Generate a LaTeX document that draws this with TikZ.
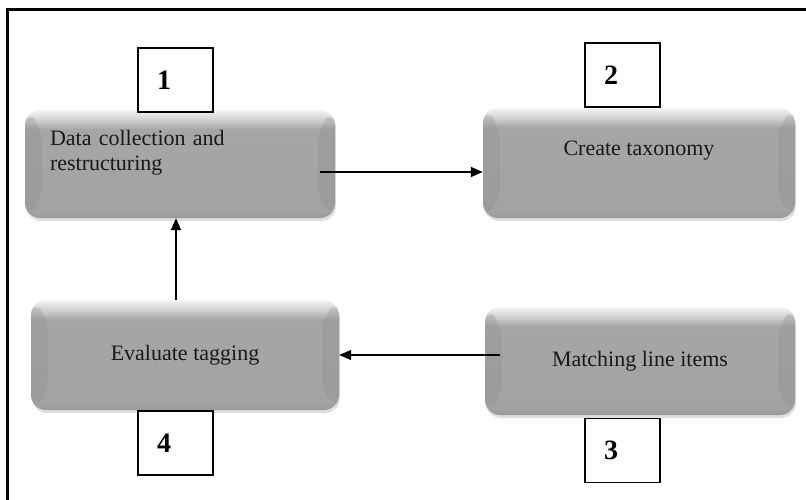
\documentclass[tikz,border=0pt]{standalone}
\usepackage{fontspec}
\setmainfont{Liberation Serif}
\usetikzlibrary{arrows.meta,shadows,positioning}
\pgfdeclareverticalshading{bevel}{100bp}{color(0bp)=(black!40); color(25bp)=(black!40); color(28bp)=(black!36); color(66bp)=(black!35); color(70bp)=(black!20); color(75bp)=(black!4); color(100bp)=(black!4)}
\begin{document}
\begin{tikzpicture}[x=1pt,y=-1pt,
		stepbox/.style={rounded corners=15pt, shading=bevel, minimum width=310pt, minimum height=108pt, inner xsep=25pt, text=black!90, font=\fontsize{22}{25}\selectfont, drop shadow={opacity=0.25, shadow xshift=1pt, shadow yshift=-3pt},
			path picture={
				\fill[black!45, opacity=0.3] (path picture bounding box.north west) -- ++(17,17) -- ([shift={(17,-17)}]path picture bounding box.south west) -- (path picture bounding box.south west) -- cycle;
				\fill[black!45, opacity=0.3] (path picture bounding box.north east) -- ++(-17,17) -- ([shift={(-17,-17)}]path picture bounding box.south east) -- (path picture bounding box.south east) -- cycle;}},
		numbox/.style={draw, line width=1.2pt, fill=white, minimum height=64pt, text width=37pt, inner xsep=19pt, align=left, font=\fontsize{28}{30}\selectfont\bfseries},
		flow/.style={line width=1.4pt, -{Triangle[length=12pt,width=10pt]}}]
	\useasboundingbox (0,0) rectangle (806,500);
	% Frame
	\draw[line width=3pt] (7.5,500) -- (7.5,10) -- (806,10);
	% Steps
	\node[stepbox, text width=260pt, align=left, text depth=52pt] (collect) at (180,164) {Data collection and\\restructuring};
	\node[stepbox, minimum width=312pt, minimum height=110pt, text depth=30pt] (taxonomy) at (639,163) {Create taxonomy};
	\node[stepbox] (matching) at (640,361) {Matching line items};
	\node[stepbox, minimum width=308pt, minimum height=110pt] (evaluate) at (185,355) {Evaluate tagging};
	% Numbers
	\node[numbox] (n1) at (175.5,80) {1};
	\node[numbox] (n2) at (622.5,75) {2};
	\node[numbox] (n3) at (622.5,450.5) {3};
	\node[numbox] (n4) at (175.5,443) {4};
	% Arrows
	\draw[flow] ([shift={(-15,8)}]collect.east) coordinate (c1) -- (c1 -| taxonomy.west);
	\draw[flow] ([xshift=15pt]matching.west |- evaluate.east) -- (evaluate.east);
	\draw[flow] ([xshift=-9pt]evaluate.north) -- ([xshift=-9pt]evaluate.north |- collect.south);
\end{tikzpicture}
\end{document}
